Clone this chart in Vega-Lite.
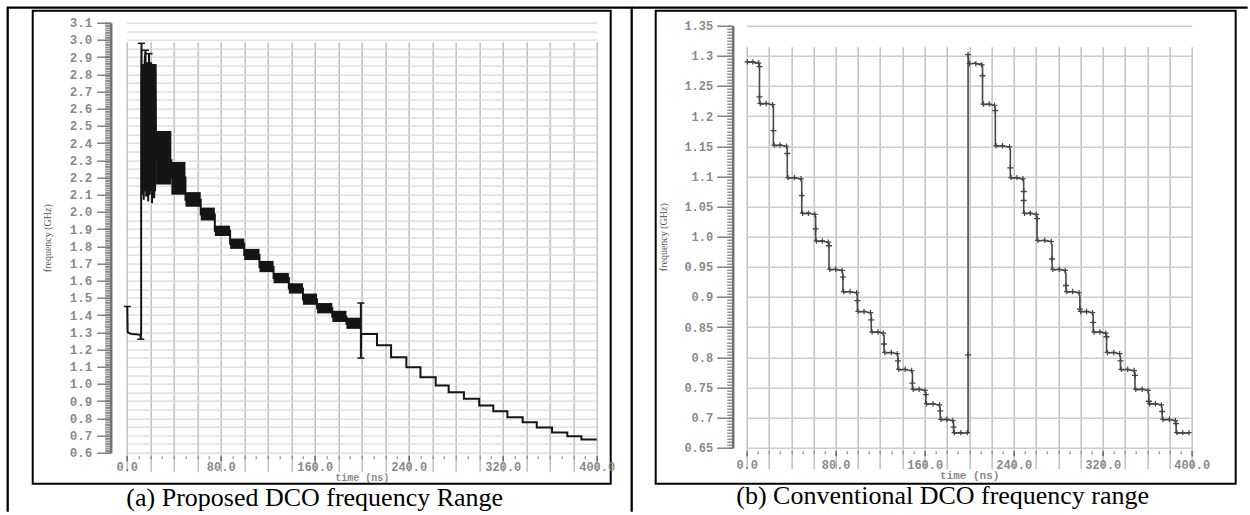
{
  "$schema": "https://vega.github.io/schema/vega-lite/v6.json",
  "background": "white",
  "padding": {"left": 3.7, "top": 4.7, "right": 0, "bottom": 0},
  "bounds": "flush",
  "spacing": 45,
  "config": {
    "view": {"stroke": "black", "strokeWidth": 2},
    "axis": {"labelFont": "Liberation Mono", "labelFontWeight": "bold", "labelColor": "#8a8a8a", "titleFont": "Liberation Serif", "titleFontWeight": "normal", "titleColor": "#555555", "titleFontSize": 10}
  },
  "datasets": {
    "propBands": [
      {"t0": 12.3, "t1": 25, "lo": 2.12, "hi": 2.86},
      {"t0": 25, "t1": 38, "lo": 2.16, "hi": 2.47},
      {"t0": 38, "t1": 50, "lo": 2.1, "hi": 2.29},
      {"t0": 50, "t1": 63, "lo": 2.03, "hi": 2.115},
      {"t0": 63, "t1": 75, "lo": 1.95, "hi": 2.025},
      {"t0": 75, "t1": 88, "lo": 1.86, "hi": 1.92},
      {"t0": 88, "t1": 100, "lo": 1.785, "hi": 1.845},
      {"t0": 100, "t1": 113, "lo": 1.72, "hi": 1.785},
      {"t0": 113, "t1": 125, "lo": 1.65, "hi": 1.715},
      {"t0": 125, "t1": 138, "lo": 1.585, "hi": 1.645},
      {"t0": 138, "t1": 150, "lo": 1.525, "hi": 1.585},
      {"t0": 150, "t1": 162, "lo": 1.46, "hi": 1.525},
      {"t0": 162, "t1": 175, "lo": 1.41, "hi": 1.47},
      {"t0": 175, "t1": 187, "lo": 1.36, "hi": 1.425},
      {"t0": 187, "t1": 199.3, "lo": 1.32, "hi": 1.385}
    ],
    "propTrace": [
      {"i": 0, "t": 0.5, "f": 1.45}, {"i": 1, "t": 0.8, "f": 1.3}, {"i": 2, "t": 4, "f": 1.29}, {"i": 3, "t": 8, "f": 1.288},
      {"i": 4, "t": 11.6, "f": 1.285}, {"i": 5, "t": 12.0, "f": 1.26}, {"i": 6, "t": 12.3, "f": 1.3}, {"i": 7, "t": 12.3, "f": 2.75},
      {"i": 8, "t": 12.6, "f": 2.98}, {"i": 9, "t": 13.0, "f": 2.1}, {"i": 10, "t": 13.8, "f": 2.86}, {"i": 11, "t": 14.5, "f": 2.07},
      {"i": 12, "t": 15.3, "f": 2.88}, {"i": 13, "t": 16.0, "f": 2.94}, {"i": 14, "t": 16.6, "f": 2.09}, {"i": 15, "t": 17.5, "f": 2.87},
      {"i": 16, "t": 18.3, "f": 2.06}, {"i": 17, "t": 19.0, "f": 2.92}, {"i": 18, "t": 19.6, "f": 2.1}, {"i": 19, "t": 20.8, "f": 2.87},
      {"i": 20, "t": 21.6, "f": 2.05}, {"i": 21, "t": 22.6, "f": 2.86}, {"i": 22, "t": 23.4, "f": 2.08}, {"i": 23, "t": 24.6, "f": 2.86},
      {"i": 24, "t": 25, "f": 2.3}, {"i": 25, "t": 38, "f": 2.3}, {"i": 26, "t": 38, "f": 2.2}, {"i": 27, "t": 50, "f": 2.2},
      {"i": 28, "t": 50, "f": 2.07}, {"i": 29, "t": 63, "f": 2.07}, {"i": 30, "t": 63, "f": 1.985}, {"i": 31, "t": 75, "f": 1.985},
      {"i": 32, "t": 75, "f": 1.89}, {"i": 33, "t": 88, "f": 1.89}, {"i": 34, "t": 88, "f": 1.815}, {"i": 35, "t": 100, "f": 1.815},
      {"i": 36, "t": 100, "f": 1.75}, {"i": 37, "t": 113, "f": 1.75}, {"i": 38, "t": 113, "f": 1.68}, {"i": 39, "t": 125, "f": 1.68},
      {"i": 40, "t": 125, "f": 1.615}, {"i": 41, "t": 138, "f": 1.615}, {"i": 42, "t": 138, "f": 1.555}, {"i": 43, "t": 150, "f": 1.555},
      {"i": 44, "t": 150, "f": 1.49}, {"i": 45, "t": 162, "f": 1.49}, {"i": 46, "t": 162, "f": 1.44}, {"i": 47, "t": 175, "f": 1.44},
      {"i": 48, "t": 175, "f": 1.39}, {"i": 49, "t": 187, "f": 1.39}, {"i": 50, "t": 187, "f": 1.35}, {"i": 51, "t": 199.3, "f": 1.35},
      {"i": 52, "t": 199.3, "f": 1.47}, {"i": 53, "t": 199.3, "f": 1.15}, {"i": 54, "t": 199.5, "f": 1.29}, {"i": 55, "t": 213, "f": 1.29},
      {"i": 56, "t": 213, "f": 1.224}, {"i": 57, "t": 225, "f": 1.224}, {"i": 58, "t": 225, "f": 1.155}, {"i": 59, "t": 238, "f": 1.155},
      {"i": 60, "t": 238, "f": 1.097}, {"i": 61, "t": 250, "f": 1.097}, {"i": 62, "t": 250, "f": 1.039}, {"i": 63, "t": 263, "f": 1.039},
      {"i": 64, "t": 263, "f": 0.99}, {"i": 65, "t": 274, "f": 0.99}, {"i": 66, "t": 274, "f": 0.951}, {"i": 67, "t": 287, "f": 0.951},
      {"i": 68, "t": 287, "f": 0.913}, {"i": 69, "t": 300, "f": 0.913}, {"i": 70, "t": 300, "f": 0.874}, {"i": 71, "t": 312, "f": 0.874},
      {"i": 72, "t": 312, "f": 0.841}, {"i": 73, "t": 324, "f": 0.841}, {"i": 74, "t": 324, "f": 0.806}, {"i": 75, "t": 337, "f": 0.806},
      {"i": 76, "t": 337, "f": 0.777}, {"i": 77, "t": 349, "f": 0.777}, {"i": 78, "t": 349, "f": 0.747}, {"i": 79, "t": 362, "f": 0.747},
      {"i": 80, "t": 362, "f": 0.718}, {"i": 81, "t": 375, "f": 0.718}, {"i": 82, "t": 375, "f": 0.695}, {"i": 83, "t": 387, "f": 0.695},
      {"i": 84, "t": 387, "f": 0.676}, {"i": 85, "t": 400, "f": 0.676}
    ],
    "propMarks": [
      {"t": 0.5, "f": 1.45}, {"t": 12, "f": 1.26}, {"t": 12.6, "f": 2.98}, {"t": 16, "f": 2.94},
      {"t": 19, "f": 2.92}, {"t": 199.3, "f": 1.47}, {"t": 199.3, "f": 1.15}
    ],
    "convTrace": [
      {"i": 0, "t": 0, "f": 1.291}, {"i": 1, "t": 2.5, "f": 1.289}, {"i": 2, "t": 5, "f": 1.29}, {"i": 3, "t": 8, "f": 1.288}, {"i": 4, "t": 10.5, "f": 1.289}, {"i": 5, "t": 11.5, "f": 1.284},
      {"i": 6, "t": 11.5, "f": 1.221}, {"i": 7, "t": 14, "f": 1.22}, {"i": 8, "t": 17, "f": 1.221}, {"i": 9, "t": 20, "f": 1.22}, {"i": 10, "t": 23, "f": 1.219}, {"i": 11, "t": 24, "f": 1.216},
      {"i": 12, "t": 24, "f": 1.152}, {"i": 13, "t": 27, "f": 1.151}, {"i": 14, "t": 30, "f": 1.152}, {"i": 15, "t": 33, "f": 1.151}, {"i": 16, "t": 35.5, "f": 1.15}, {"i": 17, "t": 36.5, "f": 1.146},
      {"i": 18, "t": 36.5, "f": 1.098}, {"i": 19, "t": 39, "f": 1.097}, {"i": 20, "t": 42, "f": 1.098}, {"i": 21, "t": 45, "f": 1.097}, {"i": 22, "t": 48.5, "f": 1.096}, {"i": 23, "t": 49.5, "f": 1.092},
      {"i": 24, "t": 49.5, "f": 1.039}, {"i": 25, "t": 52, "f": 1.038}, {"i": 26, "t": 55, "f": 1.039}, {"i": 27, "t": 58, "f": 1.038}, {"i": 28, "t": 61, "f": 1.037}, {"i": 29, "t": 62, "f": 1.033},
      {"i": 30, "t": 62, "f": 0.993}, {"i": 31, "t": 64.5, "f": 0.992}, {"i": 32, "t": 67, "f": 0.993}, {"i": 33, "t": 70, "f": 0.992}, {"i": 34, "t": 73, "f": 0.991}, {"i": 35, "t": 74, "f": 0.986},
      {"i": 36, "t": 74, "f": 0.946}, {"i": 37, "t": 76.5, "f": 0.945}, {"i": 38, "t": 79, "f": 0.946}, {"i": 39, "t": 82, "f": 0.945}, {"i": 40, "t": 85.5, "f": 0.944}, {"i": 41, "t": 86.5, "f": 0.938},
      {"i": 42, "t": 86.5, "f": 0.909}, {"i": 43, "t": 89, "f": 0.908}, {"i": 44, "t": 92, "f": 0.909}, {"i": 45, "t": 95, "f": 0.908}, {"i": 46, "t": 98.5, "f": 0.907}, {"i": 47, "t": 99.5, "f": 0.903},
      {"i": 48, "t": 99.5, "f": 0.876}, {"i": 49, "t": 102, "f": 0.875}, {"i": 50, "t": 105, "f": 0.876}, {"i": 51, "t": 108, "f": 0.875}, {"i": 52, "t": 111, "f": 0.874}, {"i": 53, "t": 112, "f": 0.87},
      {"i": 54, "t": 112, "f": 0.842}, {"i": 55, "t": 114.5, "f": 0.841}, {"i": 56, "t": 117, "f": 0.842}, {"i": 57, "t": 120, "f": 0.841}, {"i": 58, "t": 122.5, "f": 0.84}, {"i": 59, "t": 123.5, "f": 0.836},
      {"i": 60, "t": 123.5, "f": 0.808}, {"i": 61, "t": 126, "f": 0.807}, {"i": 62, "t": 129, "f": 0.808}, {"i": 63, "t": 132, "f": 0.807}, {"i": 64, "t": 135, "f": 0.806}, {"i": 65, "t": 136, "f": 0.802},
      {"i": 66, "t": 136, "f": 0.78}, {"i": 67, "t": 138.5, "f": 0.779}, {"i": 68, "t": 141.5, "f": 0.78}, {"i": 69, "t": 144.5, "f": 0.779}, {"i": 70, "t": 148, "f": 0.778}, {"i": 71, "t": 149, "f": 0.774},
      {"i": 72, "t": 149, "f": 0.747}, {"i": 73, "t": 151.5, "f": 0.746}, {"i": 74, "t": 154, "f": 0.747}, {"i": 75, "t": 157, "f": 0.746}, {"i": 76, "t": 160, "f": 0.745}, {"i": 77, "t": 161, "f": 0.741},
      {"i": 78, "t": 161, "f": 0.723}, {"i": 79, "t": 163.5, "f": 0.722}, {"i": 80, "t": 166.5, "f": 0.723}, {"i": 81, "t": 169.5, "f": 0.722}, {"i": 82, "t": 173, "f": 0.721}, {"i": 83, "t": 174, "f": 0.716},
      {"i": 84, "t": 174, "f": 0.697}, {"i": 85, "t": 176.5, "f": 0.696}, {"i": 86, "t": 179, "f": 0.697}, {"i": 87, "t": 182, "f": 0.696}, {"i": 88, "t": 185, "f": 0.695}, {"i": 89, "t": 186, "f": 0.69},
      {"i": 90, "t": 186, "f": 0.675}, {"i": 91, "t": 188.5, "f": 0.674}, {"i": 92, "t": 191.5, "f": 0.675}, {"i": 93, "t": 194.5, "f": 0.674}, {"i": 94, "t": 197.5, "f": 0.675}, {"i": 95, "t": 199, "f": 0.675},
      {"i": 96, "t": 199, "f": 1.302}, {"i": 97, "t": 199.6, "f": 1.288}, {"i": 98, "t": 202, "f": 1.287}, {"i": 99, "t": 205, "f": 1.288}, {"i": 100, "t": 208, "f": 1.286}, {"i": 101, "t": 211, "f": 1.287}, {"i": 102, "t": 212, "f": 1.282},
      {"i": 103, "t": 212, "f": 1.22}, {"i": 104, "t": 214.5, "f": 1.219}, {"i": 105, "t": 217, "f": 1.22}, {"i": 106, "t": 220, "f": 1.219}, {"i": 107, "t": 222.5, "f": 1.218}, {"i": 108, "t": 223.5, "f": 1.214},
      {"i": 109, "t": 223.5, "f": 1.151}, {"i": 110, "t": 226, "f": 1.15}, {"i": 111, "t": 229, "f": 1.151}, {"i": 112, "t": 232, "f": 1.15}, {"i": 113, "t": 236, "f": 1.149}, {"i": 114, "t": 237, "f": 1.144},
      {"i": 115, "t": 237, "f": 1.098}, {"i": 116, "t": 239.5, "f": 1.097}, {"i": 117, "t": 242, "f": 1.098}, {"i": 118, "t": 245, "f": 1.097}, {"i": 119, "t": 248, "f": 1.096}, {"i": 120, "t": 249, "f": 1.092},
      {"i": 121, "t": 249, "f": 1.039}, {"i": 122, "t": 251.5, "f": 1.038}, {"i": 123, "t": 254, "f": 1.039}, {"i": 124, "t": 257, "f": 1.038}, {"i": 125, "t": 260, "f": 1.037}, {"i": 126, "t": 261, "f": 1.032},
      {"i": 127, "t": 261, "f": 0.994}, {"i": 128, "t": 263.5, "f": 0.993}, {"i": 129, "t": 266.5, "f": 0.994}, {"i": 130, "t": 269.5, "f": 0.993}, {"i": 131, "t": 273.5, "f": 0.992}, {"i": 132, "t": 274.5, "f": 0.986},
      {"i": 133, "t": 274.5, "f": 0.946}, {"i": 134, "t": 277, "f": 0.945}, {"i": 135, "t": 280, "f": 0.946}, {"i": 136, "t": 283, "f": 0.945}, {"i": 137, "t": 286, "f": 0.944}, {"i": 138, "t": 287, "f": 0.938},
      {"i": 139, "t": 287, "f": 0.909}, {"i": 140, "t": 289.5, "f": 0.908}, {"i": 141, "t": 292.5, "f": 0.909}, {"i": 142, "t": 295.5, "f": 0.908}, {"i": 143, "t": 298.5, "f": 0.907}, {"i": 144, "t": 299.5, "f": 0.902},
      {"i": 145, "t": 299.5, "f": 0.876}, {"i": 146, "t": 302, "f": 0.875}, {"i": 147, "t": 305, "f": 0.876}, {"i": 148, "t": 308, "f": 0.875}, {"i": 149, "t": 310.5, "f": 0.874}, {"i": 150, "t": 311.5, "f": 0.869},
      {"i": 151, "t": 311.5, "f": 0.842}, {"i": 152, "t": 314, "f": 0.841}, {"i": 153, "t": 317, "f": 0.842}, {"i": 154, "t": 320, "f": 0.841}, {"i": 155, "t": 322.5, "f": 0.84}, {"i": 156, "t": 323.5, "f": 0.835},
      {"i": 157, "t": 323.5, "f": 0.808}, {"i": 158, "t": 326, "f": 0.807}, {"i": 159, "t": 329, "f": 0.808}, {"i": 160, "t": 332, "f": 0.807}, {"i": 161, "t": 335, "f": 0.806}, {"i": 162, "t": 336, "f": 0.8},
      {"i": 163, "t": 336, "f": 0.78}, {"i": 164, "t": 338.5, "f": 0.779}, {"i": 165, "t": 341.5, "f": 0.78}, {"i": 166, "t": 344.5, "f": 0.779}, {"i": 167, "t": 348, "f": 0.778}, {"i": 168, "t": 349, "f": 0.772},
      {"i": 169, "t": 349, "f": 0.747}, {"i": 170, "t": 351.5, "f": 0.746}, {"i": 171, "t": 354.5, "f": 0.747}, {"i": 172, "t": 357.5, "f": 0.746}, {"i": 173, "t": 360.5, "f": 0.745}, {"i": 174, "t": 361.5, "f": 0.739},
      {"i": 175, "t": 361.5, "f": 0.723}, {"i": 176, "t": 364, "f": 0.722}, {"i": 177, "t": 367, "f": 0.723}, {"i": 178, "t": 370, "f": 0.722}, {"i": 179, "t": 372.5, "f": 0.721}, {"i": 180, "t": 373.5, "f": 0.715},
      {"i": 181, "t": 373.5, "f": 0.697}, {"i": 182, "t": 376, "f": 0.696}, {"i": 183, "t": 379, "f": 0.697}, {"i": 184, "t": 382, "f": 0.696}, {"i": 185, "t": 385, "f": 0.695}, {"i": 186, "t": 386, "f": 0.689},
      {"i": 187, "t": 386, "f": 0.675}, {"i": 188, "t": 388.5, "f": 0.674}, {"i": 189, "t": 391.5, "f": 0.675}, {"i": 190, "t": 394.5, "f": 0.674}, {"i": 191, "t": 398, "f": 0.675}
    ],
    "convDrop": [
      {"t": 11.5, "f": 1.282}, {"t": 11.5, "f": 1.232}, {"t": 24, "f": 1.176}, {"t": 36.5, "f": 1.138}, {"t": 49.5, "f": 1.068},
      {"t": 62, "f": 1.013}, {"t": 74, "f": 0.985}, {"t": 86.5, "f": 0.933}, {"t": 99.5, "f": 0.894}, {"t": 112, "f": 0.862},
      {"t": 123.5, "f": 0.822}, {"t": 136, "f": 0.794}, {"t": 149, "f": 0.757}, {"t": 161, "f": 0.738}, {"t": 174, "f": 0.711},
      {"t": 186, "f": 0.684}, {"t": 199, "f": 0.804}, {"t": 199, "f": 1.302}, {"t": 212, "f": 1.267}, {"t": 223.5, "f": 1.209},
      {"t": 237, "f": 1.114}, {"t": 249, "f": 1.075}, {"t": 249, "f": 1.06}, {"t": 261, "f": 1.03}, {"t": 274.5, "f": 0.963},
      {"t": 287, "f": 0.919}, {"t": 299.5, "f": 0.88}, {"t": 311.5, "f": 0.858}, {"t": 323.5, "f": 0.834}, {"t": 336, "f": 0.794},
      {"t": 349, "f": 0.77}, {"t": 361.5, "f": 0.727}, {"t": 373.5, "f": 0.71}, {"t": 386, "f": 0.69}
    ],
    "convFlat": [
      {"t": 0.6, "f": 1.29}, {"t": 5.5, "f": 1.29}, {"t": 10.8, "f": 1.288},
      {"t": 12.2, "f": 1.221}, {"t": 17.5, "f": 1.221}, {"t": 23.3, "f": 1.219},
      {"t": 24.7, "f": 1.152}, {"t": 30, "f": 1.152}, {"t": 35.8, "f": 1.15},
      {"t": 37.2, "f": 1.098}, {"t": 43, "f": 1.098}, {"t": 48.8, "f": 1.096},
      {"t": 50.2, "f": 1.039}, {"t": 55.5, "f": 1.039}, {"t": 61.3, "f": 1.037},
      {"t": 62.7, "f": 0.993}, {"t": 68, "f": 0.993}, {"t": 73.3, "f": 0.991},
      {"t": 74.7, "f": 0.946}, {"t": 80, "f": 0.946}, {"t": 85.8, "f": 0.944},
      {"t": 87.2, "f": 0.909}, {"t": 93, "f": 0.909}, {"t": 98.8, "f": 0.907},
      {"t": 100.2, "f": 0.876}, {"t": 105.5, "f": 0.876}, {"t": 111.3, "f": 0.874},
      {"t": 112.7, "f": 0.842}, {"t": 118, "f": 0.842}, {"t": 122.8, "f": 0.84},
      {"t": 124.2, "f": 0.808}, {"t": 130, "f": 0.808}, {"t": 135.3, "f": 0.806},
      {"t": 136.7, "f": 0.78}, {"t": 142.5, "f": 0.78}, {"t": 148.3, "f": 0.778},
      {"t": 149.7, "f": 0.747}, {"t": 155, "f": 0.747}, {"t": 160.3, "f": 0.745},
      {"t": 161.7, "f": 0.723}, {"t": 167.5, "f": 0.723}, {"t": 173.3, "f": 0.721},
      {"t": 174.7, "f": 0.697}, {"t": 180, "f": 0.697}, {"t": 185.3, "f": 0.695},
      {"t": 186.7, "f": 0.675}, {"t": 192.5, "f": 0.675}, {"t": 198.3, "f": 0.675},
      {"t": 200.3, "f": 1.287}, {"t": 206, "f": 1.287}, {"t": 211.3, "f": 1.285},
      {"t": 212.7, "f": 1.22}, {"t": 218, "f": 1.22}, {"t": 222.8, "f": 1.218},
      {"t": 224.2, "f": 1.151}, {"t": 230, "f": 1.151}, {"t": 236.3, "f": 1.149},
      {"t": 237.7, "f": 1.098}, {"t": 243, "f": 1.098}, {"t": 248.3, "f": 1.096},
      {"t": 249.7, "f": 1.039}, {"t": 255, "f": 1.039}, {"t": 260.3, "f": 1.037},
      {"t": 261.7, "f": 0.994}, {"t": 268, "f": 0.994}, {"t": 273.8, "f": 0.992},
      {"t": 275.2, "f": 0.946}, {"t": 281, "f": 0.946}, {"t": 286.3, "f": 0.944},
      {"t": 287.7, "f": 0.909}, {"t": 293, "f": 0.909}, {"t": 298.8, "f": 0.907},
      {"t": 300.2, "f": 0.876}, {"t": 305.5, "f": 0.876}, {"t": 310.8, "f": 0.874},
      {"t": 312.2, "f": 0.842}, {"t": 317.5, "f": 0.842}, {"t": 322.8, "f": 0.84},
      {"t": 324.2, "f": 0.808}, {"t": 330, "f": 0.808}, {"t": 335.3, "f": 0.806},
      {"t": 336.7, "f": 0.78}, {"t": 342.5, "f": 0.78}, {"t": 348.3, "f": 0.778},
      {"t": 349.7, "f": 0.747}, {"t": 355.5, "f": 0.747}, {"t": 360.8, "f": 0.745},
      {"t": 362.2, "f": 0.723}, {"t": 367.5, "f": 0.723}, {"t": 372.8, "f": 0.721},
      {"t": 374.2, "f": 0.697}, {"t": 380, "f": 0.697}, {"t": 385.3, "f": 0.695},
      {"t": 386.7, "f": 0.675}, {"t": 392, "f": 0.675}, {"t": 397.5, "f": 0.675}
    ]
  },
  "hconcat": [
    {
      "width": 578,
      "height": 473,
      "title": {"text": "(a) Proposed DCO frequency Range", "orient": "bottom", "anchor": "middle", "frame": "group", "offset": -28, "dx": -7, "font": "Liberation Serif", "fontSize": 26, "fontWeight": "normal", "color": "black"},
      "resolve": {"axis": {"x": "independent", "y": "independent"}},
      "layer": [
        {
          "data": {"name": "propBands"},
          "mark": {"type": "rect", "color": "#151515"},
          "encoding": {
            "x": {"field": "t0", "type": "quantitative", "scale": {"domain": [0, 400], "range": [94, 564], "nice": false, "zero": false},
              "axis": {"orient": "bottom", "values": [0, 20, 40, 60, 80, 100, 120, 140, 160, 180, 200, 220, 240, 260, 280, 300, 320, 340, 360, 380, 400], "grid": true, "gridColor": "#c4c4c4", "gridWidth": 1.6, "domain": false, "ticks": false, "labels": false, "title": null}},
            "x2": {"field": "t1"},
            "y": {"field": "lo", "type": "quantitative", "scale": {"domain": [0.6, 3.1], "range": [442, 12], "nice": false, "zero": false},
              "axis": {"orient": "left", "values": [0.6, 0.65, 0.7, 0.75, 0.8, 0.85, 0.9, 0.95, 1.0, 1.05, 1.1, 1.15, 1.2, 1.25, 1.3, 1.35, 1.4, 1.45, 1.5, 1.55, 1.6, 1.65, 1.7, 1.75, 1.8, 1.85, 1.9, 1.95, 2.0, 2.05, 2.1, 2.15, 2.2, 2.25, 2.3, 2.35, 2.4, 2.45, 2.5, 2.55, 2.6, 2.65, 2.7, 2.75, 2.8, 2.85, 2.9, 2.95, 3.0, 3.05, 3.1], "grid": true, "gridColor": "#dadada", "gridWidth": 1.2, "domain": false, "ticks": false, "labels": false, "title": null}},
            "y2": {"field": "hi"}
          }
        },
        {
          "data": {"name": "propTrace"},
          "mark": {"type": "line", "color": "#151515", "strokeWidth": 2},
          "encoding": {
            "x": {"field": "t", "type": "quantitative", "scale": {"domain": [0, 400], "range": [94, 564], "nice": false, "zero": false},
              "axis": {"orient": "bottom", "offset": -28, "values": [0, 80, 160, 240, 320, 400], "format": ".1f", "domain": false, "grid": false, "ticks": true, "tickSize": 5, "tickColor": "#666666", "tickWidth": 1.5, "labelPadding": 1, "labelFontSize": 12, "labelFlush": false, "labelOverlap": false, "title": "time (ns)", "titleFont": "Liberation Mono", "titleFontWeight": "bold", "titleColor": "#8a8a8a", "titleFontSize": 10, "titlePadding": 0}},
            "y": {"field": "f", "type": "quantitative", "scale": {"domain": [0.6, 3.1], "range": [442, 12], "nice": false, "zero": false},
              "axis": {"orient": "left", "offset": -78, "values": [0.6, 0.7, 0.8, 0.9, 1.0, 1.1, 1.2, 1.3, 1.4, 1.5, 1.6, 1.7, 1.8, 1.9, 2.0, 2.1, 2.2, 2.3, 2.4, 2.5, 2.6, 2.7, 2.8, 2.9, 3.0, 3.1], "format": ".1f", "domain": true, "domainColor": "#6e6e6e", "domainWidth": 2.5, "ticks": true, "tickSize": 14, "tickColor": "#6e6e6e", "tickWidth": 1.3, "labelPadding": 5, "labelFontSize": 12.5, "labelOverlap": false, "labelFlush": false, "grid": false, "title": "frequency (GHz)", "titlePadding": 17}},
            "order": {"field": "i"}
          }
        },
        {
          "data": {"name": "propMarks"},
          "mark": {"type": "point", "shape": "M-1,0L1,0", "size": 49, "filled": false, "color": "#151515", "strokeWidth": 1.5, "opacity": 1},
          "encoding": {
            "x": {"field": "t", "type": "quantitative", "scale": {"domain": [0, 400], "range": [94, 564], "nice": false, "zero": false},
              "axis": {"orient": "bottom", "offset": -28, "tickCount": 40, "domain": false, "grid": false, "labels": false, "ticks": true, "tickSize": 3, "tickColor": "#777777", "tickWidth": 1, "title": null}},
            "y": {"field": "f", "type": "quantitative", "scale": {"domain": [0.6, 3.1], "range": [442, 12], "nice": false, "zero": false},
              "axis": {"orient": "left", "offset": -78, "tickCount": 250, "domain": false, "grid": false, "labels": false, "ticks": true, "tickSize": 6, "tickColor": "#7c7c7c", "tickWidth": 1.2, "title": null}}
          }
        },
        {
          "data": {"values": [{}]},
          "mark": {"type": "rule", "color": "black", "strokeWidth": 2.3},
          "encoding": {
            "x": {"datum": -102.13, "type": "quantitative", "axis": null},
            "x2": {"datum": 430.64},
            "y": {"datum": 3.1872, "type": "quantitative", "axis": null}
          }
        },
        {
          "data": {"values": [{}]},
          "mark": {"type": "rule", "color": "black", "strokeWidth": 2.3},
          "encoding": {
            "x": {"datum": -101.28, "type": "quantitative", "axis": null},
            "y": {"datum": 3.1872, "type": "quantitative", "axis": null},
            "y2": {"datum": 0.257}
          }
        },
        {
          "data": {"values": [{}]},
          "mark": {"type": "rule", "color": "black", "strokeWidth": 2.3},
          "encoding": {
            "x": {"datum": 429.79, "type": "quantitative", "axis": null},
            "y": {"datum": 3.1872, "type": "quantitative", "axis": null},
            "y2": {"datum": 0.257}
          }
        }
      ]
    },
    {
      "width": 580,
      "height": 473,
      "title": {"text": "(b) Conventional DCO frequency range", "orient": "bottom", "anchor": "middle", "frame": "group", "offset": -1, "dx": -3, "font": "Liberation Serif", "fontSize": 26, "fontWeight": "normal", "color": "black"},
      "resolve": {"axis": {"x": "independent", "y": "independent"}},
      "layer": [
        {
          "data": {"name": "convTrace"},
          "mark": {"type": "line", "color": "#4a4a4a", "strokeWidth": 1.6},
          "encoding": {
            "x": {"field": "t", "type": "quantitative", "scale": {"domain": [0, 400], "range": [91, 536], "nice": false, "zero": false},
              "axis": {"orient": "bottom", "values": [0, 20, 40, 60, 80, 100, 120, 140, 160, 180, 200, 220, 240, 260, 280, 300, 320, 340, 360, 380, 400], "grid": true, "gridColor": "#c4c4c4", "gridWidth": 1.6, "domain": false, "ticks": false, "labels": false, "title": null}},
            "y": {"field": "f", "type": "quantitative", "scale": {"domain": [0.65, 1.35], "range": [437, 15], "nice": false, "zero": false},
              "axis": {"orient": "left", "values": [0.65, 0.7, 0.75, 0.8, 0.85, 0.9, 0.95, 1.0, 1.05, 1.1, 1.15, 1.2, 1.25, 1.3, 1.35], "grid": true, "gridColor": "#cccccc", "gridWidth": 1.4, "domain": false, "ticks": false, "labels": false, "title": null}},
            "order": {"field": "i"}
          }
        },
        {
          "data": {"name": "convDrop"},
          "mark": {"type": "point", "shape": "M-1,0L1,0M0,-1L0,1", "size": 36, "filled": false, "color": "#444444", "strokeWidth": 1.3, "opacity": 1},
          "encoding": {
            "x": {"field": "t", "type": "quantitative", "scale": {"domain": [0, 400], "range": [91, 536], "nice": false, "zero": false},
              "axis": {"orient": "bottom", "offset": -33, "values": [0, 80, 160, 240, 320, 400], "format": ".1f", "domain": false, "grid": false, "ticks": true, "tickSize": 5, "tickColor": "#666666", "tickWidth": 1.5, "labelPadding": 4, "labelFontSize": 12, "labelFlush": false, "labelOverlap": false, "title": "time (ns)", "titleFont": "Liberation Mono", "titleFontWeight": "bold", "titleColor": "#8a8a8a", "titleFontSize": 11, "titlePadding": -1}},
            "y": {"field": "f", "type": "quantitative", "scale": {"domain": [0.65, 1.35], "range": [437, 15], "nice": false, "zero": false},
              "axis": {"orient": "left", "offset": -77, "values": [0.65, 0.7, 0.75, 0.8, 0.85, 0.9, 0.95, 1.0, 1.05, 1.1, 1.15, 1.2, 1.25, 1.3, 1.35], "labelExpr": "substring(format(datum.value, '.2f'), 3, 4) == '0' ? format(datum.value, '.1f') : format(datum.value, '.2f')", "domain": true, "domainColor": "#6e6e6e", "domainWidth": 2.5, "ticks": true, "tickSize": 16, "tickColor": "#6e6e6e", "tickWidth": 1.3, "labelPadding": 4, "labelFontSize": 12, "labelOverlap": false, "labelFlush": false, "grid": false, "title": "frequency (GHz)", "titlePadding": 15}}
          }
        },
        {
          "data": {"name": "convFlat"},
          "mark": {"type": "point", "shape": "M-1,0L1,0M0,-1L0,1", "size": 30, "filled": false, "color": "#444444", "strokeWidth": 1.2, "opacity": 1},
          "encoding": {
            "x": {"field": "t", "type": "quantitative", "scale": {"domain": [0, 400], "range": [91, 536], "nice": false, "zero": false},
              "axis": {"orient": "bottom", "offset": -33, "tickCount": 40, "domain": false, "grid": false, "labels": false, "ticks": true, "tickSize": 3, "tickColor": "#777777", "tickWidth": 1, "title": null}},
            "y": {"field": "f", "type": "quantitative", "scale": {"domain": [0.65, 1.35], "range": [437, 15], "nice": false, "zero": false},
              "axis": {"orient": "left", "offset": -77, "tickCount": 140, "domain": false, "grid": false, "labels": false, "ticks": true, "tickSize": 6, "tickColor": "#7c7c7c", "tickWidth": 1.2, "title": null}}
          }
        },
        {
          "data": {"values": [{}]},
          "mark": {"type": "rule", "color": "black", "strokeWidth": 2.3},
          "encoding": {
            "x": {"datum": -103.37, "type": "quantitative", "axis": null},
            "x2": {"datum": 450.34},
            "y": {"datum": 1.38, "type": "quantitative", "axis": null}
          }
        }
      ]
    }
  ]
}
